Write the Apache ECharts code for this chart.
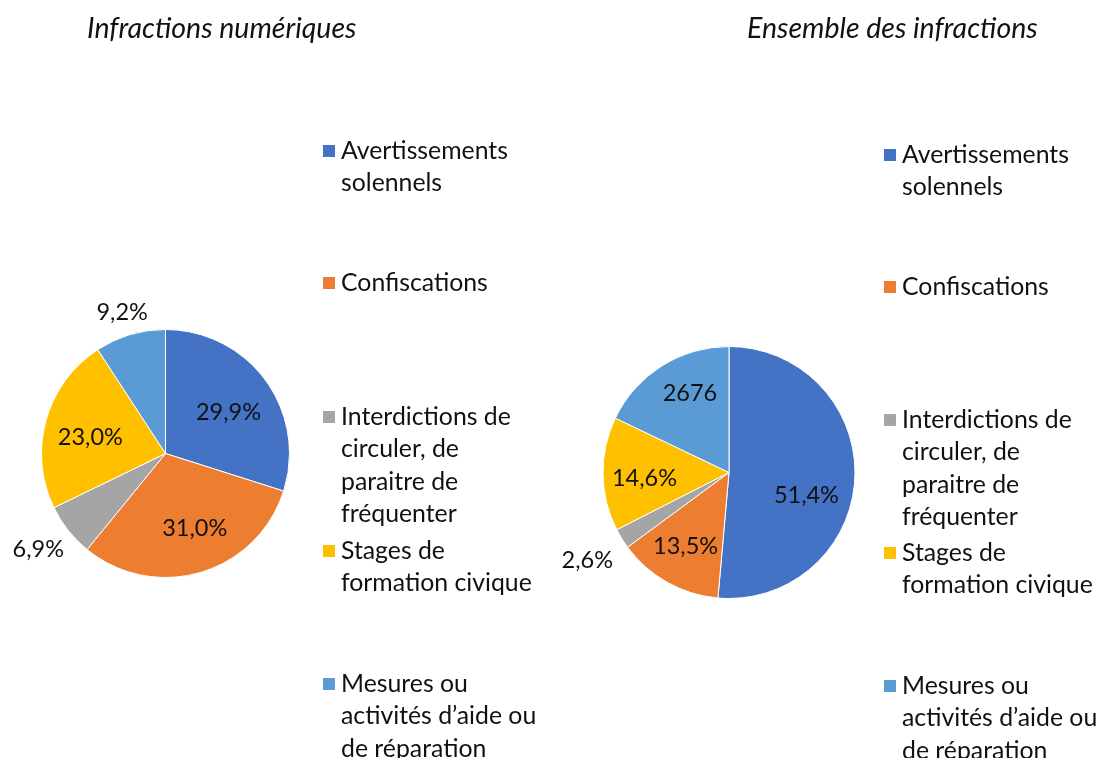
<!DOCTYPE html>
<html>
<head>
<meta charset="utf-8">
<script src="https://cdn.jsdelivr.net/npm/echarts@6/dist/echarts.min.js"></script>
<style>
  html, body { margin: 0; padding: 0; background: #fff; }
  #main { width: 1101px; height: 758px; }
</style>
</head>
<body>
<div id="main"></div>
<script>
// catégories et valeurs (en %)
var categories = [
  'Avertissements solennels',
  'Confiscations',
  'Interdictions de circuler, de paraitre de fréquenter',
  'Stages de formation civique',
  'Mesures ou activités d’aide ou de réparation'
];
var legendText = [
  'Avertissements\nsolennels',
  'Confiscations',
  'Interdictions de\ncirculer, de\nparaitre de\nfréquenter',
  'Stages de\nformation civique',
  'Mesures ou\nactivités d’aide ou\nde réparation'
];
var colors = ['#4472C4', '#ED7D31', '#A5A5A5', '#FFC000', '#5B9BD5'];
var titles = ['Infractions numériques', 'Ensemble des infractions'];

var numeriqueValues = [29.9, 31.0, 6.9, 23.0, 9.2];
var numeriqueLabels = ['29,9%', '31,0%', '6,9%', '23,0%', '9,2%'];
var ensembleValues = [51.4, 13.5, 2.6, 14.6, 17.9];
var ensembleLabels = ['51,4%', '13,5%', '2,6%', '14,6%', '2676'];

var FONT = 'Lato';
var LH = 32.4;
var TXT = '#111';

function pieSeries(values, labels, center, r, rIn, rOut, nudge) {
  nudge = nudge || {};
  function base(extra) {
    return Object.assign({
      type: 'pie',
      center: center,
      startAngle: 90,
      clockwise: true,
      avoidLabelOverlap: false,
      silent: true,
      emphasis: { disabled: true },
      labelLine: { show: false }
    }, extra);
  }
  var lbl = { fontFamily: FONT, fontSize: 23.5, color: TXT };
  function lblItem(v, i, show) {
    return { show: show, formatter: labels[i], offset: nudge[i] || [0, 5] };
  }
  return [
    // secteurs
    base({
      radius: r,
      itemStyle: { borderColor: '#fff', borderWidth: 1 },
      label: { show: false },
      data: values.map(function (v, i) {
        return { name: categories[i], value: v, itemStyle: { color: colors[i] } };
      })
    }),
    // étiquettes intérieures (grandes parts)
    base({
      radius: rIn,
      z: 3,
      itemStyle: { color: 'rgba(0,0,0,0)', borderWidth: 0 },
      label: Object.assign({ show: true, position: 'inside' }, lbl),
      data: values.map(function (v, i) {
        return { name: categories[i], value: v, label: lblItem(v, i, v >= 10) };
      })
    }),
    // étiquettes extérieures (petites parts)
    base({
      radius: rOut,
      z: 3,
      itemStyle: { color: 'rgba(0,0,0,0)', borderWidth: 0 },
      label: Object.assign({ show: true, position: 'inside' }, lbl),
      data: values.map(function (v, i) {
        return { name: categories[i], value: v, label: lblItem(v, i, v < 10) };
      })
    })
  ];
}

function legendsFor(left, iconYs) {
  return categories.map(function (name, i) {
    var n = legendText[i].split('\n').length;
    // lignes vides au-dessus pour aligner le carré sur la première ligne
    var txt = new Array(n).join('\n') + legendText[i];
    return {
      left: left,
      top: iconYs[i] - (2 * n - 1) * LH / 2,
      orient: 'vertical',
      padding: 0,
      icon: 'rect',
      itemWidth: 14,
      itemHeight: 14,
      selectedMode: false,
      data: [{ name: name, itemStyle: { color: colors[i] } }],
      formatter: function () { return txt; },
      textStyle: { fontFamily: FONT, fontSize: 24.8, color: TXT, lineHeight: LH }
    };
  });
}

var titleStyle = { fontFamily: FONT, fontSize: 28.5, fontStyle: 'italic', fontWeight: 'normal', color: TXT };

var chart = echarts.init(document.getElementById('main'));
chart.setOption({
  animation: false,
  backgroundColor: '#fff',
  title: [
    { text: titles[0], left: 87, top: 14, padding: 0, textStyle: titleStyle },
    { text: titles[1], left: 747, top: 14, padding: 0, textStyle: titleStyle }
  ],
  legend: legendsFor(321, [151, 283, 417, 551, 684])
    .concat(legendsFor(882, [155, 287, 420, 553, 686])),
  series: pieSeries(numeriqueValues, numeriqueLabels, [165.5, 453.5], 124, 150, 298,
      { 1: [7, 0], 2: [-8, 2] })
    .concat(pieSeries(ensembleValues, ensembleLabels, [729, 472.5], 126, 163, 327,
      { 0: [-7, 19], 2: [0, 0], 1: [-2, 0], 4: [6, -8] }))
});
</script>
</body>
</html>
